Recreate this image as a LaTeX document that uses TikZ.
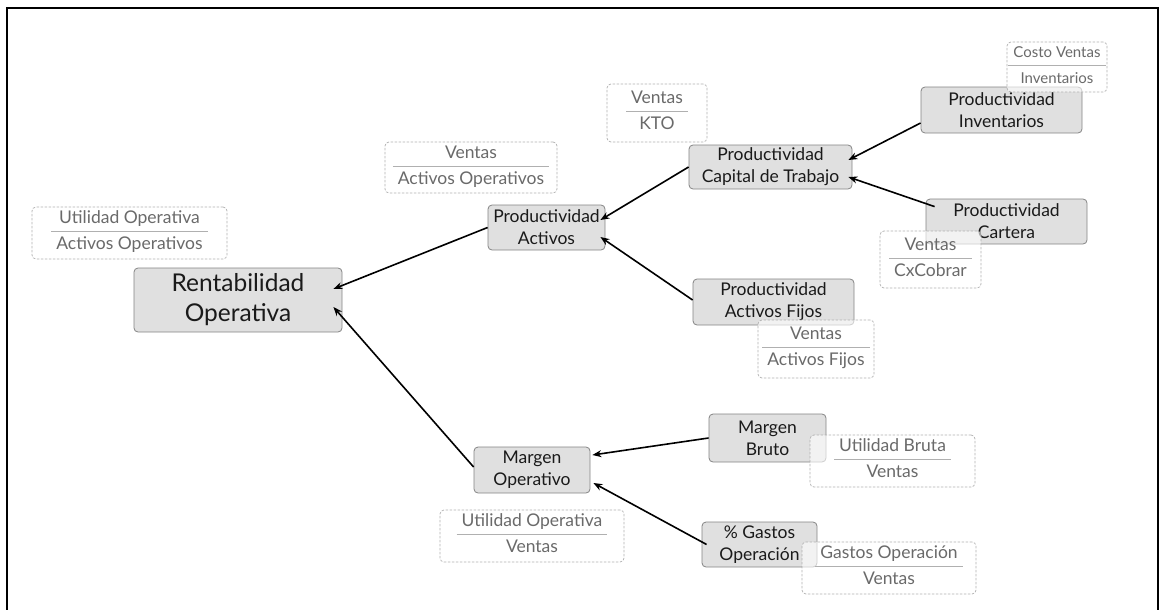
\documentclass[tikz,border=0pt]{standalone}
\usepackage{fontspec}
\setmainfont{Lato}
\usepackage{colortbl}
\usetikzlibrary{arrows.meta}
\definecolor{nodefill}{HTML}{E0E0E0}
\definecolor{nodeline}{HTML}{858585}
\definecolor{dashline}{HTML}{B0B0B0}
\definecolor{dashtext}{HTML}{6A6A6A}
\definecolor{txt}{HTML}{1A1A1A}
\newcommand{\ratiotext}[2]{\begin{tabular}{@{\hspace{5pt}}c@{\hspace{5pt}}}#1\\[2pt]\arrayrulecolor{dashline}\hline\rule{0pt}{18pt}#2\end{tabular}}
\tikzset{
  box/.style={draw=nodeline, fill=nodefill, rounded corners=4pt, inner sep=0pt,
    align=center, text=txt, font=\fontsize{17.5}{22}\selectfont, line width=0.8pt},
  ratio/.style={draw=dashline, dashed, dash pattern=on 2.5pt off 1.5pt, fill=white, fill opacity=0.6,
    text opacity=1, text=dashtext, rounded corners=4pt, inner sep=0pt,
    font=\fontsize{17.5}{19}\selectfont, line width=0.7pt},
  arr/.style={-{Stealth[length=9pt,width=7pt]}, line width=1.6pt, black}
}
\begin{document}
\begin{tikzpicture}[x=1pt,y=-1pt]
\useasboundingbox (0,0) rectangle (1159,610);
\fill[white] (0,0) rectangle (1159,610);
\draw[line width=2pt, black] (7,640) -- (7,8) -- (1158,8) -- (1158,640);

% main nodes
\node[box, minimum width=208pt, minimum height=64pt, font=\fontsize{24.5}{30}\selectfont] (RO) at (238,300) {Rentabilidad\\Operativa};
\node[box, minimum width=117pt, minimum height=45pt] (PA) at (546.5,227.5) {Productividad\\Activos};
\node[box, minimum width=163pt, minimum height=44pt] (PCT) at (770.5,167) {Productividad\\Capital de Trabajo};
\node[box, minimum width=161pt, minimum height=46pt] (PI) at (1001.5,110) {Productividad\\Inventarios};
\node[box, minimum width=161pt, minimum height=45pt] (PC) at (1006.5,221.5) {Productividad\\Cartera};
\node[box, minimum width=161pt, minimum height=46pt] (PAF) at (773.5,302) {Productividad\\Activos Fijos};
\node[box, minimum width=116pt, minimum height=46pt] (MO) at (532,470) {Margen\\Operativo};
\node[box, minimum width=117pt, minimum height=48pt] (MB) at (767.5,438) {Margen\\Bruto};
\node[box, minimum width=115pt, minimum height=45pt] (GO) at (759.5,544.5) {\% Gastos\\Operación};

% connectors
\draw[arr] (PA.west) -- ([shift={(-9,-11)}]RO.east);
\draw[arr] ([shift={(0,-3)}]MO.west) -- ([shift={(-9,7)}]RO.east);
\draw[arr] (PCT.west) -- ([shift={(-5,-7.5)}]PA.east);
\draw[arr] ([shift={(0,-2)}]PAF.west) -- ([shift={(-5,9.5)}]PA.east);
\draw[arr] ([shift={(0,13)}]PI.west) -- ([shift={(-4,-7)}]PCT.east);
\draw[arr] ([shift={(9,8)}]PC.north west) -- ([shift={(-4,10)}]PCT.east);
\draw[arr] (MB.west) -- ([shift={(2,-15)}]MO.east);
\draw[arr] ([shift={(5,0)}]GO.west) -- ([shift={(3,13)}]MO.east);

% ratio boxes
\node[ratio, minimum width=195pt, minimum height=52pt] (r1) at (129.5,233) {\ratiotext{Utilidad Operativa}{Activos Operativos}};
\node[ratio, minimum width=172pt, minimum height=51pt] (r2) at (471,167.5) {\ratiotext{Ventas}{Activos Operativos}};
\node[ratio, minimum width=100pt, minimum height=58pt] (r3) at (657,113) {\ratiotext{Ventas}{KTO}};
\node[ratio, minimum width=100pt, minimum height=50pt, font=\fontsize{15}{17}\selectfont] (r4) at (1057,67) {\ratiotext{Costo Ventas}{Inventarios}};
\node[ratio, minimum width=101pt, minimum height=57pt] (r5) at (930.5,259.5) {\ratiotext{Ventas}{CxCobrar}};
\node[ratio, minimum width=116pt, minimum height=58pt] (r6) at (816,349) {\ratiotext{Ventas}{Activos Fijos}};
\node[ratio, minimum width=184pt, minimum height=52pt] (r7) at (532,536) {\ratiotext{Utilidad Operativa}{Ventas}};
\node[ratio, minimum width=165pt, minimum height=52pt] (r8) at (892.5,461) {\ratiotext{Utilidad Bruta}{Ventas}};
\node[ratio, minimum width=174pt, minimum height=52pt] (r9) at (889,568) {\ratiotext{Gastos Operación}{Ventas}};
\end{tikzpicture}
\end{document}
